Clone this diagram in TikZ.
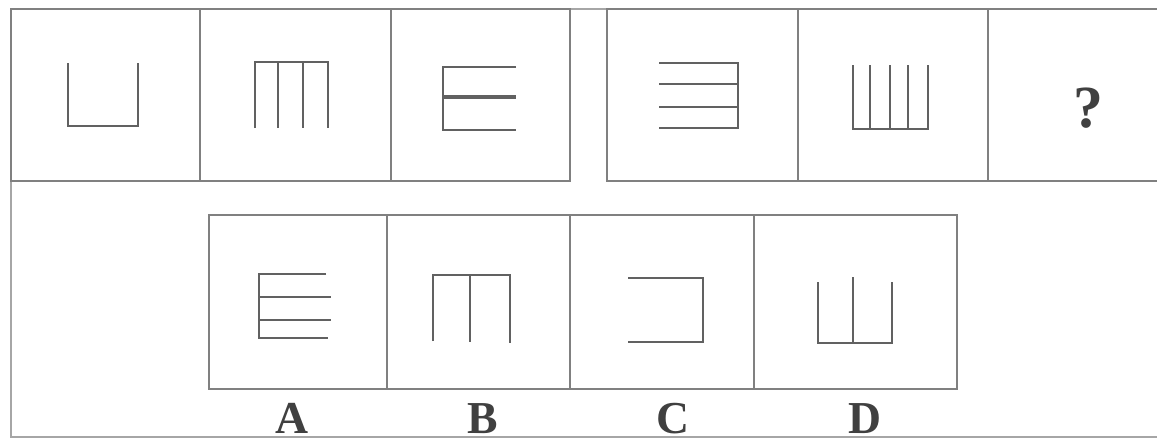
\documentclass[tikz,border=0pt]{standalone}
\usepackage{fontspec}
\setmainfont{Liberation Serif}
\usepackage{tikz}
\usetikzlibrary{positioning}
\tikzset{cell/.style={draw=black!50,line width=0.6pt},
  glyph/.style={draw=black!62,line width=0.7pt},
  frameline/.style={draw=black!35,line width=0.35pt},
  letter/.style={font=\fontsize{13}{13}\selectfont\bfseries,text=black!75,inner sep=0pt}}

\begin{document}
\begin{tikzpicture}[x=0.01cm,y=-0.01cm]
\useasboundingbox (0,0) rectangle (1157,441);
\fill[white] (0,0) rectangle (1157,441);
% outer frame
\draw[frameline] (1157,9)--(11,9)--(11,437)--(1157,437);
% top row
\draw[cell] (11,9) rectangle (200,181);
\draw[cell] (200,9) rectangle (391,181);
\draw[cell] (391,9) rectangle (570,181);
\draw[cell] (607,9) rectangle (798,181);
\draw[cell] (798,9) rectangle (988,181);
\draw[cell] (988,9) rectangle (1165,181);
% answer row
\draw[cell] (209,215) rectangle (387,389);
\draw[cell] (387,215) rectangle (570,389);
\draw[cell] (570,215) rectangle (754,389);
\draw[cell] (754,215) rectangle (957,389);
% figures, top row
\draw[glyph] (68,63)--(68,126)--(138,126)--(138,63);
\draw[glyph] (255,128)--(255,62)--(328,62)--(328,128);
\foreach \x in {278,303} \draw[glyph] (\x,62)--(\x,128);
\draw[glyph] (516,67)--(443,67)--(443,130)--(516,130);
\draw[glyph,line width=1.1pt] (443,97)--(516,97);
\draw[glyph] (659,63)--(738,63)--(738,128)--(659,128);
\foreach \y in {84,107} \draw[glyph] (659,\y)--(738,\y);
\draw[glyph] (853,65)--(853,129)--(928,129)--(928,65);
\foreach \x in {870,890,908} \draw[glyph] (\x,65)--(\x,129);
\node[font=\fontsize{17}{17}\selectfont\bfseries,text=black!75] (qm) at (1088,108) {?};
% figures, answers
\draw[glyph] (326,274)--(259,274)--(259,338)--(328,338);
\draw[glyph] (259,297)--(331,297);
\draw[glyph] (259,320)--(331,320);
\draw[glyph] (433,341)--(433,275)--(510,275)--(510,343);
\draw[glyph] (470,275)--(470,342);
\draw[glyph] (628,278)--(703,278)--(703,342)--(628,342);
\draw[glyph] (818,282)--(818,343)--(892,343)--(892,282);
\draw[glyph] (853,277)--(853,343);
% labels
\node[letter,anchor=base] (la) at (292,433) {A};
\node[letter,anchor=base] (lb) at (483,433) {B};
\node[letter,anchor=base] (lc) at (673,433) {C};
\node[letter,anchor=base] (ld) at (865,433) {D};
\end{tikzpicture}
\end{document}
